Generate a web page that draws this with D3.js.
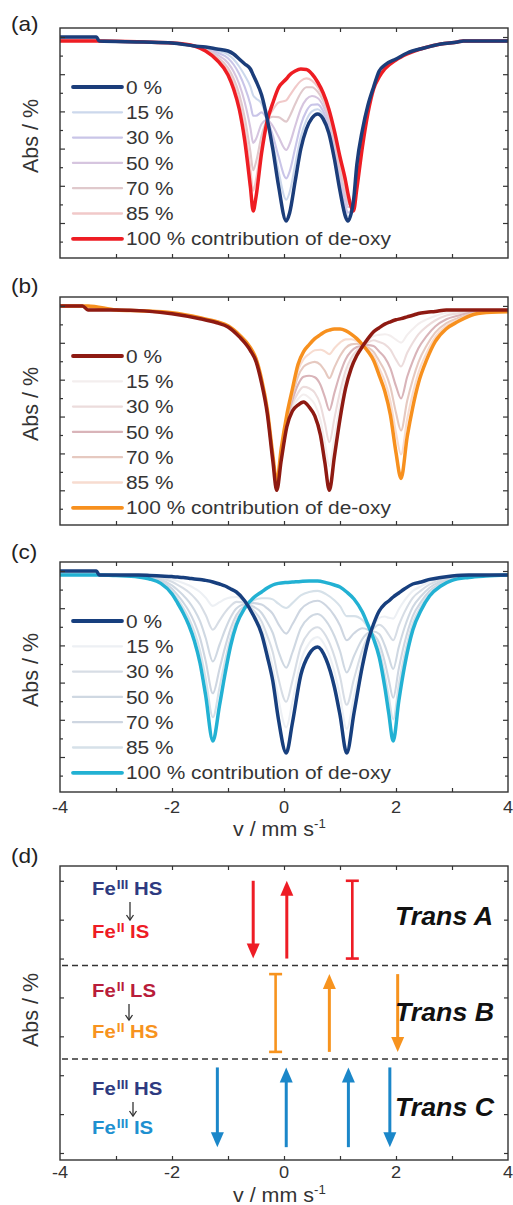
<!DOCTYPE html>
<html>
<head>
<meta charset="utf-8">
<script src="https://cdn.jsdelivr.net/npm/d3@7"></script>
<style>
  body { margin: 0; background: #fff; }
  svg { display: block; font-family: "Liberation Sans", Arial, Helvetica, sans-serif; }
</style>
</head>
<body>
<svg id="chart" width="513" height="1205"></svg>
<script>
// ---------- data ----------
// Mixture fractions (percent contribution of de-oxy spectrum)
const fractions = [0, 15, 30, 50, 70, 85, 100];
const legendLabels = ["0 %", "15 %", "30 %", "50 %", "70 %", "85 %", "100 % contribution of de-oxy"];

// (a) velocity grid (mm/s) and relative absorption of the two end spectra
const vA = [-4, -3.35, -3.3, -2.5, -2.0, -1.6, -1.4, -1.2, -1.0, -0.9,
            -0.8, -0.7, -0.6, -0.55, -0.5, -0.4, -0.3, -0.2, -0.1, 0.04,
            0.1, 0.2, 0.3, 0.4, 0.5, 0.6, 0.7, 0.8, 0.9, 1.0,
            1.1, 1.14, 1.24, 1.3, 1.4, 1.5, 1.6, 1.7, 1.8, 2.0,
            2.2, 2.5, 2.8, 3.1, 3.2, 4.0];
const absA0 = [0.2, 0.2, 0, -0.05, -0.1, -0.25, -0.3, -0.4, -0.5, -0.65,
               -0.9, -1.15, -1.4, -1.7, -2.0, -2.7, -3.9, -5.4, -7.2, -9.0,
               -8.6, -7.0, -5.4, -4.4, -3.85, -3.65, -3.9, -4.6, -5.9, -7.5,
               -8.8, -9.0, -8.0, -6.2, -4.45, -3.2, -2.3, -1.5, -1.2, -0.9,
               -0.6, -0.35, -0.15, -0.05, 0, 0];
const absA100 = [0, 0, 0, -0.05, -0.1, -0.25, -0.5, -0.95, -1.7, -2.4,
                 -3.4, -5.0, -7.3, -8.5, -7.8, -5.6, -4.0, -3.1, -2.35, -1.9,
                 -1.7, -1.5, -1.4, -1.42, -1.65, -2.05, -2.6, -3.4, -4.5, -5.8,
                 -7.0, -7.6, -8.5, -7.4, -5.3, -3.6, -2.4, -1.8, -1.4, -0.95,
                 -0.65, -0.35, -0.15, -0.05, 0, 0];

// (b)
const vB = [-4, -3.6, -3.5, -3.0, -2.5, -2.0, -1.5, -1.2, -1.0, -0.8,
            -0.6, -0.5, -0.4, -0.3, -0.2, -0.13, -0.05, 0.05, 0.15, 0.25,
            0.35, 0.45, 0.55, 0.65, 0.73, 0.81, 0.9, 1.0, 1.1, 1.2,
            1.3, 1.4, 1.5, 1.6, 1.7, 1.8, 1.9, 2.0, 2.09, 2.2,
            2.3, 2.4, 2.55, 2.7, 2.9, 3.1, 3.4, 3.7, 4.0];
const absB0 = [0.2, 0.2, 0, 0, -0.05, -0.2, -0.45, -0.65, -0.86, -1.35,
               -2.05, -2.6, -3.7, -5.2, -7.6, -9.1, -7.6, -5.9, -5.1, -4.8,
               -4.65, -4.9, -5.35, -6.3, -7.7, -9.1, -7.4, -5.5, -3.95, -2.95,
               -2.3, -1.85, -1.45, -1.1, -0.9, -0.72, -0.6, -0.5, -0.44, -0.35,
               -0.27, -0.18, -0.12, -0.08, 0, 0, 0, 0, 0];
const absB100 = [0.2, 0.2, 0.2, 0, -0.05, -0.15, -0.4, -0.6, -0.8, -1.25,
                 -1.9, -2.45, -3.5, -5.0, -7.3, -8.7, -7.0, -5.3, -4.0, -2.75,
                 -2.1, -1.75, -1.45, -1.25, -1.1, -1.02, -0.97, -0.97, -1.05, -1.22,
                 -1.45, -1.75, -2.1, -2.55, -3.3, -4.1, -5.3, -7.2, -8.5, -6.4,
                 -4.9, -3.7, -2.5, -1.6, -0.95, -0.6, -0.22, -0.12, -0.1];

// (c)
const vC = [-4, -3.35, -3.3, -3.0, -2.6, -2.4, -2.2, -2.0, -1.9, -1.8,
            -1.7, -1.6, -1.5, -1.4, -1.27, -1.15, -1.05, -0.95, -0.85, -0.7,
            -0.55, -0.4, -0.3, -0.2, -0.1, 0.04, 0.15, 0.3, 0.45, 0.6,
            0.75, 0.9, 1.0, 1.12, 1.25, 1.4, 1.5, 1.6, 1.7, 1.8,
            1.87, 1.95, 2.05, 2.15, 2.3, 2.45, 2.6, 2.8, 3.0, 3.3,
            3.6, 4.0];
const absC0 = [0.2, 0.2, 0, 0, 0, -0.02, -0.05, -0.08, -0.1, -0.13,
               -0.16, -0.2, -0.22, -0.27, -0.35, -0.45, -0.55, -0.7, -0.85, -1.3,
               -2.0, -2.95, -4.05, -5.3, -7.2, -8.9, -7.4, -5.0, -3.95, -3.6,
               -4.2, -5.6, -7.0, -8.9, -6.9, -4.55, -3.3, -2.45, -1.8, -1.45,
               -1.3, -1.1, -0.9, -0.7, -0.45, -0.35, -0.22, -0.12, -0.05, 0,
               0, 0];
const absC100 = [0, 0, 0, -0.03, -0.1, -0.2, -0.42, -0.95, -1.4, -1.9,
                 -2.5, -3.3, -4.4, -6.0, -8.3, -6.5, -4.9, -3.5, -2.5, -1.65,
                 -1.15, -0.85, -0.65, -0.5, -0.42, -0.37, -0.35, -0.32, -0.3, -0.3,
                 -0.38, -0.5, -0.6, -0.85, -1.2, -1.85, -2.5, -3.2, -4.1, -5.6,
                 -6.9, -8.3, -6.3, -4.6, -2.75, -1.75, -1.05, -0.55, -0.27, -0.12,
                 -0.05, 0];

// line colours per panel, in legend order
const coloursA = ["#1b3d7a", "#ccd8ec", "#c9c5e8", "#d6c5df", "#e0c9cc", "#f1c9c9", "#ee1d23"];
const coloursB = ["#8e1a12", "#f3eeee", "#ecdcdc", "#d9b4b9", "#e6c9c0", "#f7dcd0", "#f7901e"];
const coloursC = ["#173f7e", "#edf0f4", "#d7dde5", "#cfd8e2", "#ced6e1", "#d6e1e9", "#22b1d3"];

// x axis tick labels
const xTickValues = [-4, -2, 0, 2, 4];
const xTickLabels = ["-4", "-2", "0", "2", "4"];

// (d) transitions: level ranges and line markers (velocity, kind)
const transNames = ["Trans A", "Trans B", "Trans C"];
const transLow = [5.0, 2.6, 0.15];
const transHigh = [7.0, 4.6, 2.2];
const transColours = ["#ee1c25", "#f7931e", "#1b87c9"];
const linesA = [[-0.55, "down"], [0.05, "up"], [1.22, "bar"]];
const linesB = [[-0.15, "bar"], [0.81, "up"], [2.03, "down"]];
const linesC = [[-1.19, "down"], [0.04, "up"], [1.15, "up"], [1.89, "down"]];
const dividers = [4.82, 2.42];
const stateFrom = [["Fe", "III", " HS", "#2e3a80"], ["Fe", "II", " LS", "#b91d3a"], ["Fe", "III", " HS", "#2e3a80"]];
const stateTo = [["Fe", "II", " IS", "#ee1c25"], ["Fe", "II", " HS", "#f7931e"], ["Fe", "III", " IS", "#1e90d0"]];

// ---------- drawing ----------
const svg = d3.select("#chart");
const X0 = 60, X1 = 508;
const x = d3.scaleLinear().domain([-4, 4]).range([X0, X1]);
const SX = 1.1;           // horizontal text stretch
const textCol = "#333";

function stretchedText(g, px, py, str, opts = {}) {
  const t = g.append("text")
    .attr("transform", `translate(${px},${py}) scale(${opts.sx || SX},1)`)
    .attr("font-size", opts.size || 18)
    .attr("fill", opts.fill || textCol)
    .attr("text-anchor", opts.anchor || "start")
    .text(str);
  if (opts.weight) t.attr("font-weight", opts.weight);
  if (opts.style) t.attr("font-style", opts.style);
  if (opts.dy) t.attr("dy", opts.dy);
  return t;
}

function frameAndTicks(g, y, top, bottom, yMajor, yMinor, majLen, minLen) {
  g.append("rect").attr("x", X0).attr("y", top).attr("width", X1 - X0).attr("height", bottom - top)
    .attr("fill", "none").attr("stroke", textCol).attr("stroke-width", 1.4);
  const xt = d3.range(-3, 4);
  const noDomain = s => s.select(".domain").remove();
  g.append("g").attr("color", textCol).attr("transform", `translate(0,${bottom})`)
    .call(d3.axisBottom(x).tickValues(xt).tickSize(-4).tickFormat("")).call(noDomain);
  g.append("g").attr("color", textCol).attr("transform", `translate(0,${top})`)
    .call(d3.axisTop(x).tickValues(xt).tickSize(-4).tickFormat("")).call(noDomain);
  const sides = [[d3.axisLeft, X0], [d3.axisRight, X1]];
  sides.forEach(([ax, px]) => {
    g.append("g").attr("color", textCol).attr("transform", `translate(${px},0)`)
      .call(ax(y).tickValues(yMajor).tickSize(-majLen).tickFormat("")).call(noDomain);
    if (yMinor.length)
      g.append("g").attr("color", textCol).attr("transform", `translate(${px},0)`)
        .call(ax(y).tickValues(yMinor).tickSize(-minLen).tickFormat("")).call(noDomain);
  });
  g.selectAll(".tick line").attr("stroke-width", 1.2);
}

function absLabel(g, cy) {
  g.append("text").attr("transform", `translate(38,${cy}) rotate(-90)`)
    .attr("text-anchor", "middle").attr("font-size", 21.5).attr("fill", textCol)
    .text("Abs / %");
}

function panelLabel(g, str, baseY) {
  stretchedText(g, 11, baseY, str, { size: 20.5, fill: "#222" });
}

function xLabels(g, bottom, labelBase, titleBase) {
  xTickValues.forEach((v, i) => {
    stretchedText(g, x(v), labelBase, xTickLabels[i], { size: 16.5, anchor: "middle" });
  });
  const t = g.append("text")
    .attr("transform", `translate(233,${titleBase}) scale(${SX},1)`)
    .attr("font-size", 19.5).attr("fill", textCol);
  t.append("tspan").text("v / mm s");
  t.append("tspan").attr("font-size", 12).attr("dy", -8).text("-1");
}

const yTickAll = d3.range(12).map(k => 0.2 - 0.93 * k);
const yMajorSpec = yTickAll.filter((d, k) => k % 2 === 0);
const yMinorSpec = yTickAll.filter((d, k) => k % 2 === 1);

function spectrumPanel(cfg) {
  const g = svg.append("g");
  const y = d3.scaleLinear().domain([-10.85, 0.65]).range([cfg.bottom, cfg.top]);
  const clipId = "clip-" + cfg.id;
  g.append("clipPath").attr("id", clipId).append("rect")
    .attr("x", X0).attr("y", cfg.top).attr("width", X1 - X0).attr("height", cfg.bottom - cfg.top);

  const series = fractions.map((f, i) => ({
    f, colour: cfg.colours[i],
    pts: cfg.v.map((v, j) => ({ v, a: (1 - f / 100) * cfg.low[j] + (f / 100) * cfg.high[j] }))
  }));
  const line = d3.line().x(d => x(d.v)).y(d => y(d.a)).curve(d3.curveMonotoneX);
  const order = [1, 2, 3, 4, 5, 6, 0];
  const cg = g.append("g").attr("clip-path", `url(#${clipId})`);
  order.forEach(i => {
    const s = series[i];
    const main = (i === 0 || i === 6);
    cg.append("path").attr("d", line(s.pts)).attr("fill", "none")
      .attr("stroke", s.colour).attr("stroke-width", main ? 3.5 : 2.1)
      .attr("stroke-linejoin", "round");
  });

  frameAndTicks(g, y, cfg.top, cfg.bottom, yMajorSpec, yMinorSpec, 5, 3);

  // legend
  const rowY = i => cfg.top + 59 + i * 25.3;
  series.forEach((s, i) => {
    const main = (i === 0 || i === 6);
    g.append("line").attr("x1", 73).attr("x2", 122).attr("y1", rowY(i)).attr("y2", rowY(i))
      .attr("stroke", s.colour).attr("stroke-width", main ? 3.8 : 2.3).attr("stroke-linecap", "round");
    stretchedText(g, 126, rowY(i), legendLabels[i], { size: 19, dy: "0.35em", fill: "#353535" });
  });

  absLabel(g, (cfg.top + cfg.bottom) / 2 - 7);
  panelLabel(g, cfg.label, cfg.labelY);
  if (cfg.axisLabels) xLabels(g, cfg.bottom, cfg.bottom + 21, cfg.titleY);
}

spectrumPanel({ id: "a", top: 28, bottom: 258, v: vA, low: absA0, high: absA100, colours: coloursA, label: "(a)", labelY: 31 });
spectrumPanel({ id: "b", top: 297, bottom: 525, v: vB, low: absB0, high: absB100, colours: coloursB, label: "(b)", labelY: 293 });
spectrumPanel({ id: "c", top: 562, bottom: 792, v: vC, low: absC0, high: absC100, colours: coloursC, label: "(c)", labelY: 559, axisLabels: true, titleY: 836 });

// ---------- (d) transition scheme ----------
(function () {
  const top = 866, bottom = 1160;
  const g = svg.append("g");
  const y = d3.scaleLinear().domain([-0.18, 7.38]).range([bottom, top]);

  frameAndTicks(g, y, top, bottom, d3.range(0, 8), [], 4, 0);

  dividers.forEach(d => {
    g.append("line").attr("x1", X0 + 2).attr("x2", X1).attr("y1", y(d)).attr("y2", y(d))
      .attr("stroke", textCol).attr("stroke-width", 1.5).attr("stroke-dasharray", "6,4");
  });

  const headL = 15, headW = 13;
  [linesA, linesB, linesC].forEach((lines, ti) => {
    const col = transColours[ti];
    const yLo = y(transLow[ti]), yHi = y(transHigh[ti]);
    lines.forEach(([v, kind]) => {
      const px = x(v);
      if (kind === "bar") {
        g.append("line").attr("x1", px).attr("x2", px).attr("y1", yHi).attr("y2", yLo)
          .attr("stroke", col).attr("stroke-width", 2.6);
        [yHi, yLo].forEach(yy => g.append("line").attr("x1", px - 6.5).attr("x2", px + 6.5)
          .attr("y1", yy).attr("y2", yy).attr("stroke", col).attr("stroke-width", 2.6));
      } else {
        const tip = kind === "up" ? yHi : yLo;
        const tail = kind === "up" ? yLo : yHi;
        const s = kind === "up" ? 1 : -1;
        g.append("line").attr("x1", px).attr("x2", px).attr("y1", tail).attr("y2", tip + s * (headL - 2))
          .attr("stroke", col).attr("stroke-width", 3);
        g.append("path")
          .attr("d", `M${px},${tip} L${px - headW / 2},${tip + s * headL} L${px + headW / 2},${tip + s * headL} Z`)
          .attr("fill", col);
      }
    });
  });

  // state labels and small transition arrows
  const fromBase = [895, 997, 1095];
  const toBase = [938, 1038, 1134];
  const arrowX = [130, 129, 133];
  function stateText(parts, baseY) {
    const t = g.append("text")
      .attr("transform", `translate(92,${baseY}) scale(${SX},1)`)
      .attr("font-size", 18.5).attr("font-weight", "bold").attr("fill", parts[3]);
    t.append("tspan").text(parts[0]);
    t.append("tspan").attr("font-size", 12.5).attr("dy", -6).attr("dx", 1).text(parts[1]);
    t.append("tspan").attr("dy", 6).text(parts[2]);
  }
  for (let i = 0; i < 3; i++) {
    stateText(stateFrom[i], fromBase[i]);
    stateText(stateTo[i], toBase[i]);
    const ax = arrowX[i], y1 = fromBase[i] + 7, y2 = toBase[i] - 18;
    g.append("line").attr("x1", ax).attr("x2", ax).attr("y1", y1).attr("y2", y2)
      .attr("stroke", "#333").attr("stroke-width", 1.3);
    g.append("path").attr("d", `M${ax - 3.5},${y2 - 5} L${ax},${y2} L${ax + 3.5},${y2 - 5}`)
      .attr("fill", "none").attr("stroke", "#333").attr("stroke-width", 1.3);
  }

  const transBase = [925, 1021, 1116];
  transNames.forEach((n, i) => {
    stretchedText(g, 395, transBase[i], n, { size: 25, weight: "bold", style: "italic", fill: "#111", sx: 1.07 });
  });

  absLabel(g, (top + bottom) / 2 - 3);
  panelLabel(g, "(d)", 863);
  xLabels(g, bottom, bottom + 18, 1202);
})();
</script>
</body>
</html>
